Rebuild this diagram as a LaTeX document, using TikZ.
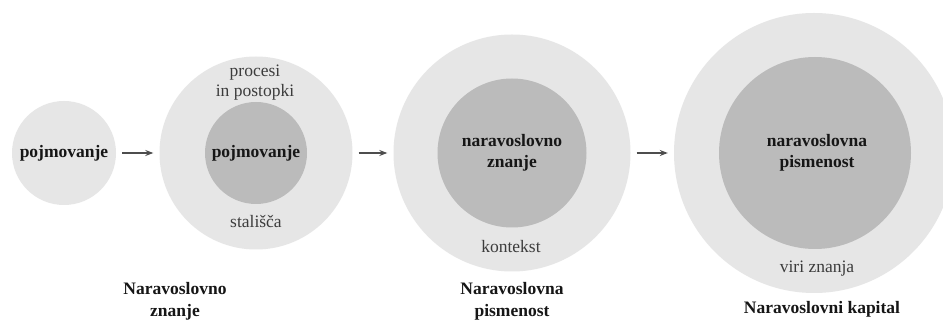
\documentclass[tikz,border=0pt]{standalone}
\usepackage{fontspec}
\setmainfont{Liberation Serif}
\usetikzlibrary{arrows.meta}
\definecolor{ringgray}{HTML}{E6E6E6}
\definecolor{coregray}{HTML}{BBBBBB}
\definecolor{inktext}{HTML}{161616}
\definecolor{softtext}{HTML}{3C3C3C}
\definecolor{arrowgray}{HTML}{4D4D4D}
\begin{document}
\begin{tikzpicture}[x=1pt,y=-1pt,
  ring/.style={circle,fill=ringgray,inner sep=0pt,minimum size=#1},
  core/.style={circle,fill=coregray,inner sep=0pt,minimum size=#1},
  boldlbl/.style={font=\fontsize{17.5}{21}\selectfont\bfseries,text=inktext,align=center,inner sep=0pt},
  ringlbl/.style={font=\fontsize{17.5}{20}\selectfont,text=softtext,align=center,inner sep=0pt},
  titlelbl/.style={font=\fontsize{17.5}{22}\selectfont\bfseries,text=inktext,align=center,inner sep=0pt},
  flow/.style={draw=arrowgray,line width=1.2pt,-{Stealth[length=8pt,width=6pt]},shorten <=6pt,shorten >=6pt}]
\clip (0,0) rectangle (943,320);
\fill[white] (0,0) rectangle (943,320);

% circles
\node[ring=104pt] (c1) at (64,153) {};
\node[ring=193pt] (c2o) at (256,153) {};
\node[core=102pt] (c2i) at (256,153) {};
\node[ring=237pt] (c3o) at (512,153) {};
\node[core=149pt] (c3i) at (512,153) {};
\node[ring=280pt] (c4o) at (814,153) {};
\node[core=192pt] (c4i) at (815,153) {};

% labels inside circles
\node[boldlbl] (t1) at (64,153) {pojmovanje};
\node[boldlbl] (t2) at (256,153) {pojmovanje};
\node[ringlbl] (t2a) at (255,83) {procesi\\in postopki};
\node[ringlbl] (t2b) at (256,221) {stališča};
\node[boldlbl] (t3) at (512,153) {naravoslovno\\znanje};
\node[ringlbl] (t3b) at (511,247) {kontekst};
\node[boldlbl] (t4) at (817,153) {naravoslovna\\pismenost};
\node[ringlbl] (t4b) at (817,269) {viri znanja};

% titles
\node[titlelbl] (h2) at (175,301.5) {Naravoslovno\\znanje};
\node[titlelbl] (h3) at (512,301.5) {Naravoslovna\\pismenost};
\node[titlelbl] (h4) at (822,309) {Naravoslovni kapital};

% arrows
\draw[flow] (c1.east) -- (c2o.west);
\draw[flow] (c2o.east) -- (c3o.west);
\draw[flow] (c3o.east) -- (c4o.west);
\end{tikzpicture}
\end{document}
